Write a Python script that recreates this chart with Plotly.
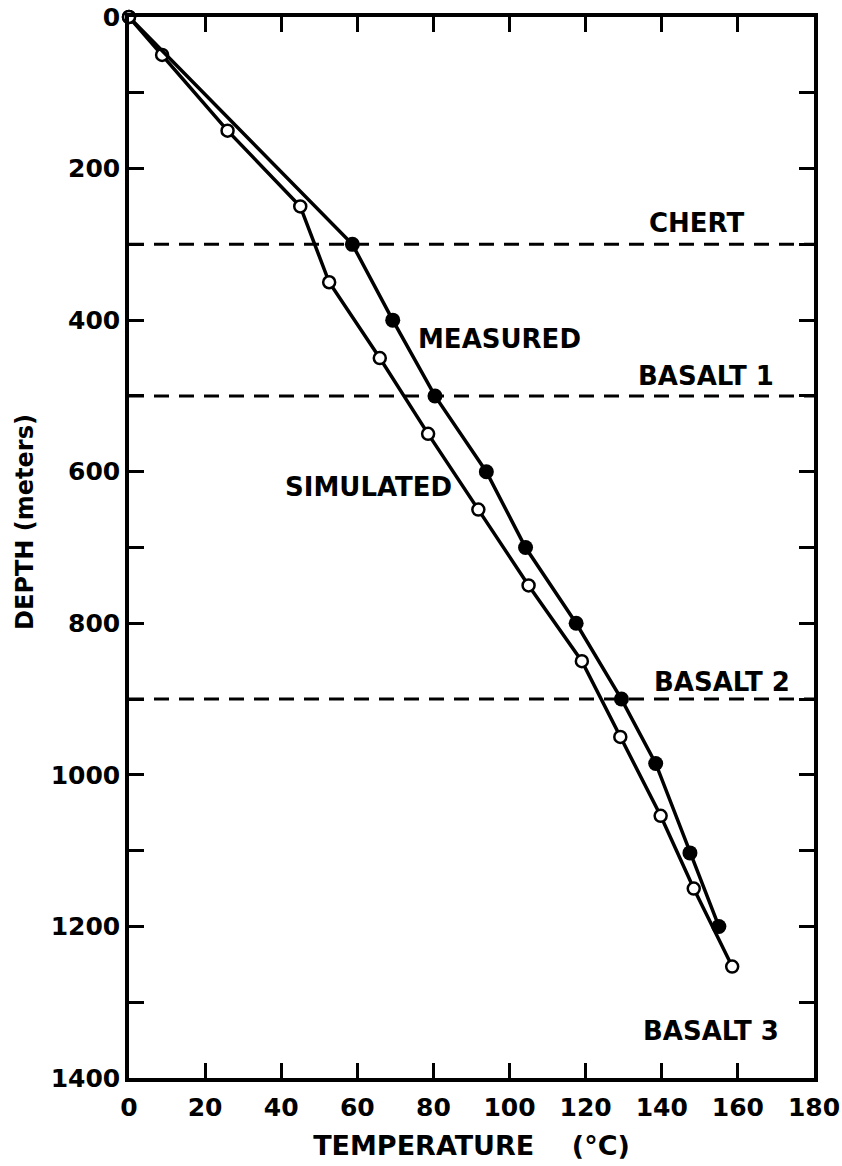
import plotly.graph_objects as go

# Measured temperature profile (filled circles)
measured_temp = [0, 58.7, 69.3, 80.4, 93.9, 104.2, 117.5, 129.4, 138.4, 147.4, 155.0]
measured_depth = [0, 300, 400, 500, 600, 700, 800, 900, 985, 1103, 1200]
measured_marker = [False, True, True, True, True, True, True, True, True, True, True]

# Simulated temperature profile (open circles)
simulated_temp = [0, 8.7, 25.9, 45.0, 52.6, 65.9, 78.6, 91.8, 105.0, 119.0, 129.1, 139.7, 148.4, 158.5]
simulated_depth = [0, 50, 150, 250, 350, 450, 550, 650, 750, 850, 950, 1054, 1150, 1253]

# Formation boundaries
layer_depths = [300, 500, 900]
layer_names = ["CHERT", "BASALT 1", "BASALT 2", "BASALT 3"]

x_ticks = [0, 20, 40, 60, 80, 100, 120, 140, 160, 180]
y_ticks = [0, 200, 400, 600, 800, 1000, 1200, 1400]

FONT = "DejaVu Sans"

fig = go.Figure()

# formation boundaries (dashed)
for d in layer_depths:
    fig.add_trace(go.Scatter(x=[0, 180], y=[d, d], mode="lines",
                             line=dict(color="black", width=3, dash="15px,10px"),
                             hoverinfo="skip", showlegend=False))

fig.add_trace(go.Scatter(x=simulated_temp, y=simulated_depth, mode="lines+markers",
                         line=dict(color="black", width=3.5),
                         marker=dict(symbol="circle", size=12, color="white",
                                     line=dict(color="black", width=2.5)),
                         cliponaxis=False, showlegend=False, name="SIMULATED"))

fig.add_trace(go.Scatter(x=measured_temp, y=measured_depth, mode="lines",
                         line=dict(color="black", width=3.5),
                         showlegend=False, name="MEASURED"))
fig.add_trace(go.Scatter(x=[t for t, m in zip(measured_temp, measured_marker) if m],
                         y=[d for d, m in zip(measured_depth, measured_marker) if m],
                         mode="markers",
                         marker=dict(symbol="circle", size=15, color="black"),
                         cliponaxis=False, showlegend=False, name="MEASURED"))

# origin open circle on top
fig.add_trace(go.Scatter(x=simulated_temp[:1], y=simulated_depth[:1], mode="markers",
                         marker=dict(symbol="circle", size=12, color="white",
                                     line=dict(color="black", width=2.5)),
                         cliponaxis=False, showlegend=False, hoverinfo="skip"))

label_font = dict(family=FONT, size=26, color="black", weight="bold")
labels = [
    ("CHERT", 149, 272),
    ("BASALT 1", 151.6, 474),
    ("BASALT 2", 155.8, 877),
    ("BASALT 3", 153, 1338),
    ("MEASURED", 97.4, 425),
    ("SIMULATED", 63, 620),
]
for txt, x, y in labels:
    fig.add_annotation(x=x, y=y, text=txt, showarrow=False, font=label_font,
                       xanchor="center", yanchor="middle")

# y-axis title placed as a rotated annotation
fig.add_annotation(xref="paper", yref="paper", x=-0.152, y=0.524, text="DEPTH (meters)",
                   textangle=-90, showarrow=False, xanchor="center", yanchor="middle",
                   font=dict(family=FONT, size=24, color="black", weight="bold"))

axis_common = dict(showline=True, linecolor="black", linewidth=3.5, mirror="allticks",
                   ticks="inside", ticklen=15, tickwidth=2.5, tickcolor="black",
                   showgrid=False, zeroline=False, automargin=False,
                   tickfont=dict(family=FONT, size=25, color="black", weight="bold"))

fig.update_xaxes(range=[0, 180], tickvals=x_ticks, ticktext=[str(v) for v in x_ticks],
                 ticklabelstandoff=4,
                 title=dict(text="TEMPERATURE\u00a0\u00a0\u00a0\u00a0(°C)", standoff=16,
                            font=dict(family=FONT, size=27, color="black", weight="bold")),
                 **axis_common)
fig.update_yaxes(range=[1400, 0], tickvals=y_ticks, ticktext=[str(v) for v in y_ticks],
                 minor=dict(ticks="inside", dtick=100, ticklen=15, tickwidth=2.5, tickcolor="black"),
                 **axis_common)

fig.update_layout(width=842, height=1166, margin=dict(l=129, r=28, t=17, b=88),
                  plot_bgcolor="white", paper_bgcolor="white")

fig.write_html("out.html")
